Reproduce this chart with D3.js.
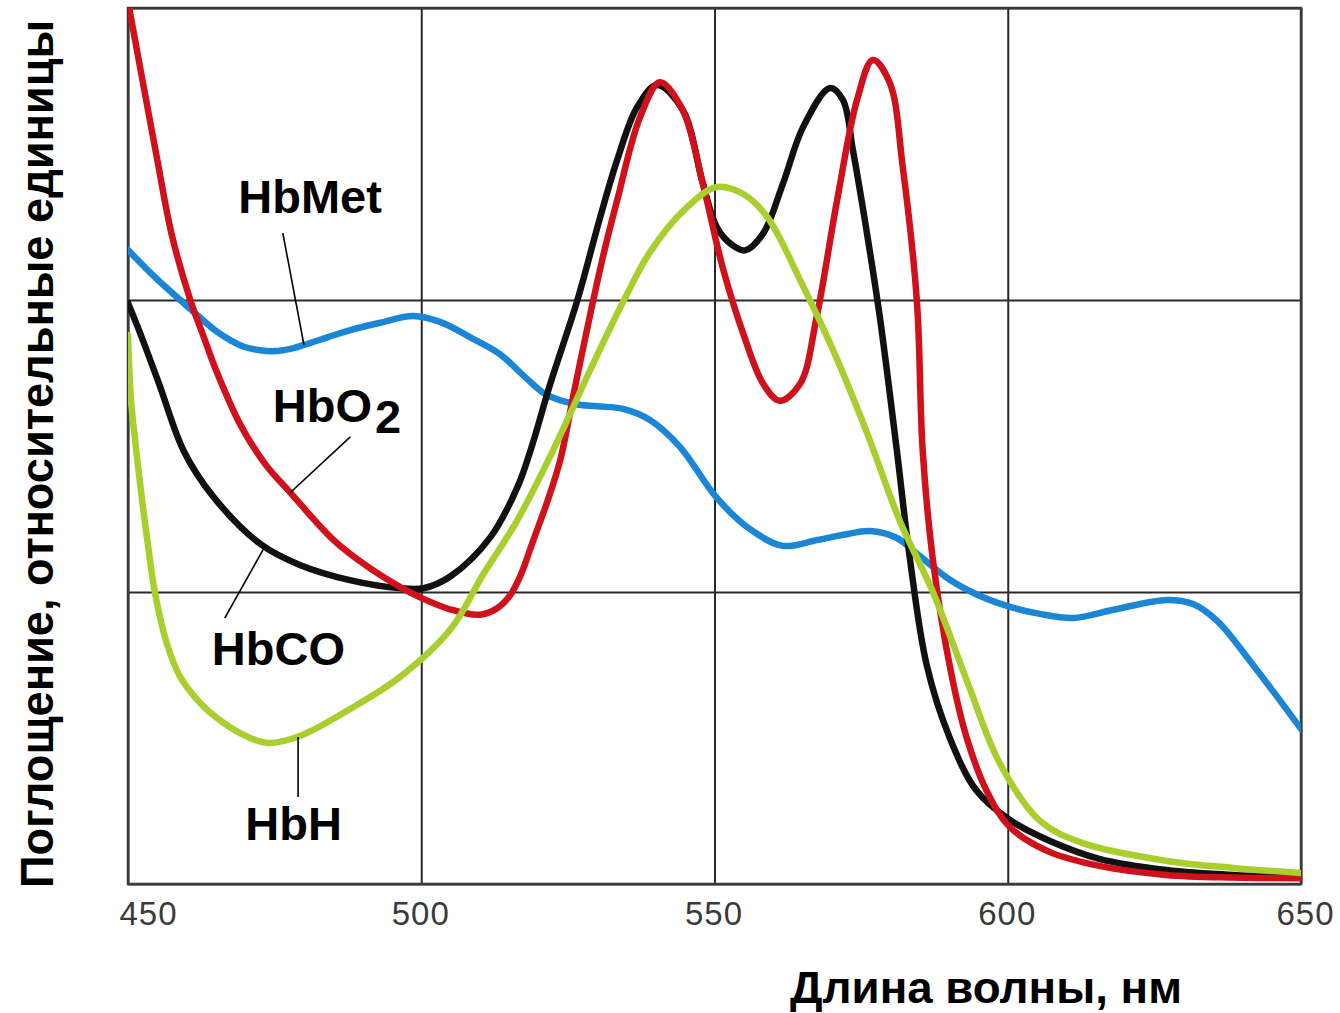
<!DOCTYPE html>
<html lang="ru">
<head>
<meta charset="utf-8">
<title>Спектры поглощения гемоглобина</title>
<script src="https://d3js.org/d3.v7.min.js"></script>
<style>
  html, body { margin: 0; padding: 0; background: #fff; }
  svg { display: block; }
  text { font-family: 'Liberation Sans', Arial, sans-serif; }
</style>
</head>
<body>
<script>
// chart size
var w = 1340;
var h = 1013;

// axis ticks
var xTicks = [450, 500, 550, 600, 650];
var xTickLabels = ["450", "500", "550", "600", "650"];
var yGrid = [0, 1, 2, 3];

// spectra: [wavelength nm, absorbance rel. units]
var hbMet = [
  [450, 2.171], [454.5, 2.08], [458.9, 2.0], [462, 1.945], [464.8, 1.897], [467.5, 1.862],
  [469.9, 1.839], [472.5, 1.828], [475.1, 1.825], [477.5, 1.832], [480, 1.846], [484, 1.872],
  [487.9, 1.897], [493, 1.922], [498.6, 1.945], [503.2, 1.925], [508.3, 1.873], [513.4, 1.815],
  [517.7, 1.736], [521.4, 1.675], [526.2, 1.644], [530, 1.636], [534.4, 1.627], [539, 1.589],
  [544.1, 1.497], [550.4, 1.322], [556, 1.216], [561.7, 1.158], [567.5, 1.178], [572, 1.196],
  [576.5, 1.209], [581.1, 1.185], [585, 1.123], [590.2, 1.041], [595.3, 0.986], [600.4, 0.949],
  [605.5, 0.925], [611.1, 0.911], [618.6, 0.942], [627.2, 0.973], [631.6, 0.959],
  [635.7, 0.901], [641.3, 0.764], [650, 0.531]
];

var hbO2 = [
  [450.2, 3.0], [452.4, 2.76], [454.9, 2.49], [457.5, 2.22], [460.7, 1.995], [462.8, 1.88],
  [465, 1.76], [469.1, 1.575], [473.4, 1.438], [477.6, 1.342], [485.1, 1.177], [491, 1.085],
  [496.5, 1.016], [500, 0.98], [505, 0.94], [510, 0.922], [513, 0.945], [515.2, 0.99],
  [517, 1.06], [519.1, 1.177], [521.5, 1.31], [523.7, 1.452], [526, 1.68], [528.8, 1.95],
  [531, 2.15], [533.4, 2.341], [537.3, 2.626], [540.7, 2.746], [544.6, 2.65], [548, 2.4],
  [551.4, 2.111], [554.9, 1.885], [558.3, 1.713], [561.1, 1.655], [564.6, 1.713],
  [567.4, 1.94], [570.9, 2.341], [574.3, 2.685], [577, 2.822], [579.9, 2.743], [582.1, 2.455],
  [584.5, 1.998], [585.5, 1.483], [587.2, 1.116], [590.1, 0.748], [593, 0.501],
  [596.4, 0.319], [600.3, 0.196], [607.1, 0.11], [615.6, 0.062], [627, 0.031],
  [638.3, 0.022], [650, 0.02]
];

var hbCO = [
  [450, 1.99], [452, 1.89], [455.3, 1.713], [459.5, 1.483], [464.6, 1.325], [472.6, 1.164],
  [479.4, 1.092], [488, 1.04], [496.5, 1.013], [500.4, 1.013], [505, 1.054], [511.8, 1.188],
  [516.4, 1.359], [518.6, 1.483], [522, 1.713], [526.6, 1.998], [530.5, 2.283], [533.4, 2.479],
  [536.8, 2.66], [540.2, 2.736], [544.6, 2.65], [548, 2.4], [550.4, 2.249], [553.1, 2.187],
  [555.2, 2.17], [558.3, 2.228], [561.7, 2.4], [565.1, 2.592], [569.7, 2.726], [571.9, 2.685],
  [573.6, 2.513], [576, 2.228], [578.2, 1.94], [581.1, 1.483], [583.3, 1.116], [586.2, 0.748],
  [590.1, 0.501], [594.7, 0.319], [600.3, 0.22], [607.1, 0.148], [615.6, 0.086],
  [627, 0.048], [638.3, 0.031], [650, 0.024]
];

var hbH = [
  [450, 1.88], [450.5, 1.66], [451.4, 1.486], [452.4, 1.315], [453.4, 1.161], [454.6, 0.997],
  [456.6, 0.825], [458.9, 0.709], [462.3, 0.62], [465.2, 0.568], [469.1, 0.517],
  [473.7, 0.483], [479.3, 0.507], [488, 0.601], [496.5, 0.711], [505.1, 0.875],
  [510.5, 1.058], [516.3, 1.243], [522.5, 1.486], [528.8, 1.76], [534.4, 1.993], [539, 2.164],
  [544.8, 2.308], [550.4, 2.387], [554.9, 2.363], [559, 2.284], [564.6, 2.068],
  [570.2, 1.829], [576, 1.545], [581.6, 1.243], [587.3, 0.997], [593.1, 0.692],
  [598.7, 0.411], [605.5, 0.216], [612.8, 0.14], [627.2, 0.079], [638.4, 0.055], [650, 0.038]
];

var seriesNames = ["HbMet", "HbCO", "HbO2", "HbH"];
var seriesData = [hbMet, hbCO, hbO2, hbH];
var seriesColors = ["#1b86d6", "#111111", "#d0101a", "#a8cf2e"];

// curve labels: text, subscript, position [nm, value]; leader lines [nm1, v1, nm2, v2]
var labelNames = ["HbMet", "HbO", "HbCO", "HbH"];
var labelSubs = ["", "2", "", ""];
var labelPos = [[468.8, 2.298], [474.7, 1.582], [464.3, 0.75], [470.0, 0.151]];
var leaders = [
  [476.4, 2.229, 480.0, 1.846],
  [487.9, 1.531, 477.6, 1.339],
  [473.4, 1.158, 466.5, 0.911],
  [479.0, 0.503, 479.0, 0.298]
];

var xTitle = "Длина волны, нм";
var yTitle = "Поглощение, относительные единицы";

// plot box
var padL = 128, padR = 1301, padT = 8, padB = 884;
var xScale = d3.scaleLinear().domain([450, 650]).range([padL, padR]);
var yScale = d3.scaleLinear().domain([0, 3]).range([padB, padT]);

var svg = d3.select("body").append("svg")
  .attr("width", w)
  .attr("height", h);

svg.append("defs").append("clipPath").attr("id", "plot")
  .append("rect")
  .attr("x", padL).attr("y", padT)
  .attr("width", padR - padL).attr("height", padB - padT);

// horizontal grid
var yAxis = d3.axisLeft(yScale)
  .tickValues(yGrid)
  .tickSize(-(padR - padL))
  .tickFormat("");
var gy = svg.append("g")
  .attr("transform", "translate(" + padL + ",0)")
  .call(yAxis);
gy.select(".domain").remove();
gy.selectAll("line").attr("stroke", "#2a2a2a").attr("stroke-width", 2);

// vertical grid + tick labels
var xAxis = d3.axisBottom(xScale)
  .tickValues(xTicks)
  .tickSize(-(padB - padT))
  .tickFormat(function(d, i) { return xTickLabels[i]; });
var gx = svg.append("g")
  .attr("transform", "translate(0," + padB + ")")
  .call(xAxis);
gx.select(".domain").remove();
gx.selectAll("line").attr("stroke", "#2a2a2a").attr("stroke-width", 2);
gx.selectAll("text")
  .attr("y", 41)
  .attr("dy", 0)
  .attr("dx", function(d, i) { return i === 0 ? 20 : (i === xTicks.length - 1 ? 4 : -1); })
  .attr("fill", "#3a3a3a")
  .attr("font-size", 33)
  .attr("font-family", "'Liberation Sans', Arial, sans-serif")
  .attr("letter-spacing", 1);

// frame
svg.append("rect")
  .attr("x", padL).attr("y", padT)
  .attr("width", padR - padL).attr("height", padB - padT)
  .attr("fill", "none")
  .attr("stroke", "#3a3a3a")
  .attr("stroke-width", 2.5);

// curves
var line = d3.line()
  .x(function(d) { return xScale(d[0]); })
  .y(function(d) { return yScale(d[1]); })
  .curve(d3.curveCatmullRom.alpha(0.5));

svg.append("g")
  .attr("clip-path", "url(#plot)")
  .selectAll("path")
  .data(seriesData)
  .enter()
  .append("path")
  .attr("d", line)
  .attr("fill", "none")
  .attr("stroke", function(d, i) { return seriesColors[i]; })
  .attr("stroke-width", 6.5)
  .attr("stroke-linejoin", "round")
  .attr("stroke-linecap", "round");

// leader lines
svg.selectAll("line.leader")
  .data(leaders)
  .enter()
  .append("line")
  .attr("class", "leader")
  .attr("x1", function(d) { return xScale(d[0]); })
  .attr("y1", function(d) { return yScale(d[1]); })
  .attr("x2", function(d) { return xScale(d[2]); })
  .attr("y2", function(d) { return yScale(d[3]); })
  .attr("stroke", "#000")
  .attr("stroke-width", 1.6);

// curve labels
var labels = svg.selectAll("text.lbl")
  .data(labelNames)
  .enter()
  .append("text")
  .attr("class", "lbl")
  .attr("x", function(d, i) { return xScale(labelPos[i][0]); })
  .attr("y", function(d, i) { return yScale(labelPos[i][1]); })
  .attr("font-size", 47)
  .attr("font-weight", "bold")
  .attr("fill", "#000");
labels.append("tspan").text(function(d) { return d; });
labels.append("tspan")
  .attr("dy", 11)
  .attr("dx", 3)
  .text(function(d, i) { return labelSubs[i]; });

// axis titles
svg.append("text")
  .attr("x", 790)
  .attr("y", 1003)
  .attr("font-size", 44)
  .attr("font-weight", "bold")
  .attr("fill", "#000")
  .attr("textLength", 392)
  .attr("lengthAdjust", "spacingAndGlyphs")
  .text(xTitle);

svg.append("text")
  .attr("transform", "translate(53,888) rotate(-90)")
  .attr("font-size", 46)
  .attr("font-weight", "bold")
  .attr("fill", "#000")
  .attr("textLength", 868)
  .attr("lengthAdjust", "spacingAndGlyphs")
  .text(yTitle);
</script>
</body>
</html>
